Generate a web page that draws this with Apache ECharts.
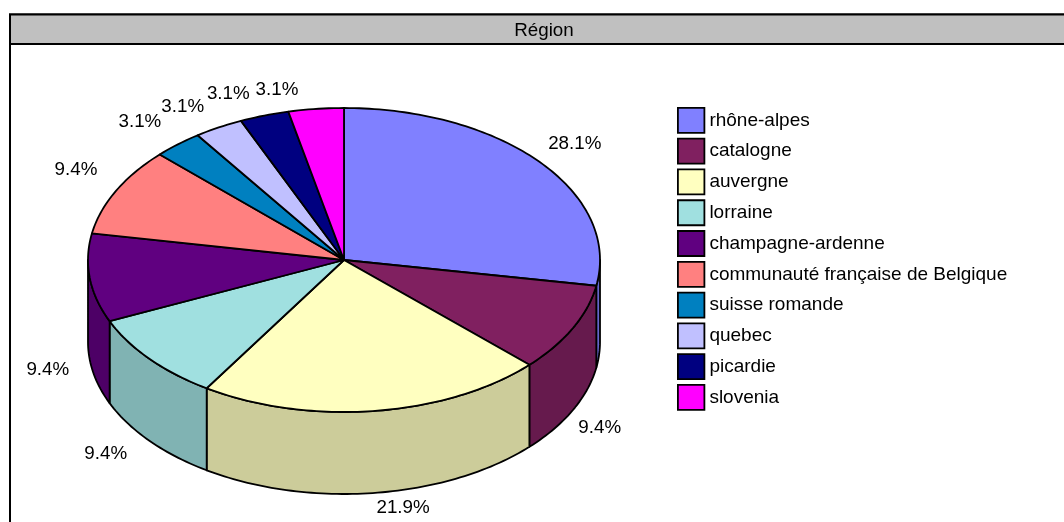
<!DOCTYPE html>
<html>
<head>
<meta charset="utf-8">
<style>html,body{margin:0;padding:0;background:#fff}#c{width:1064px;height:522px}</style>
<script src="https://cdn.jsdelivr.net/npm/echarts@6/dist/echarts.min.js"></script>
</head>
<body>
<div id="c"></div>
<script>
const categories = ['rhône-alpes','catalogne','auvergne','lorraine','champagne-ardenne','communauté française de Belgique','suisse romande','quebec','picardie','slovenia'];
const shares = [28.1,9.4,21.9,9.4,9.4,9.4,3.1,3.1,3.1,3.1];
const colors = ['#8080ff','#802060','#ffffc0','#a0e0e0','#600080','#ff8080','#0080c0','#c0c0ff','#000080','#ff00ff'];
const sideColors = ['#6666cc','#661a4d','#cccc9a','#80b3b3','#4d0066','#cc6666','#006699','#9a9acc','#000066','#cc00cc'];
const titleText = 'Région';

// Layout
const geo = {cx:344, cy:260, rx:256, ry:152, depth:82, skew:1.4*Math.PI/180};
const fontFamily = '"Liberation Sans", Arial, sans-serif';
const fontSize = 18.8;
// nudges of each percentage label away from its slice's rim point
const labelNudge = [[35,-18],[27,18],[28,15],[-44,13],[-42,10],[-40,-21],[-38,-23],[-36,-21],[-36,-22],[-39,-19]];

const total = shares.reduce((a,b)=>a+b,0);
const deg = v => v/total*Math.PI*2;
// the reference's 3D projection turns the inner slice borders by a little; 12 o'clock stays put
const warp = t => (t<=1e-6||t>=Math.PI*2-1e-6) ? t : t-geo.skew;
function startOf(i){let s=0;for(let k=0;k<i;k++)s+=deg(shares[k]);return s;}
function rim(t,dy){return [geo.cx+geo.rx*Math.sin(t), geo.cy-geo.ry*Math.cos(t)+(dy||0)];}
function arc(a,b,dy){
  const n=Math.max(2,Math.ceil((b-a)/0.02)), pts=[];
  for(let j=0;j<=n;j++)pts.push(rim(a+(b-a)*j/n,dy));
  return pts;
}

function makeRenderer(i){
  return function(params, api){
    const value = api.value(0);
    const s = startOf(i);
    const a = warp(s), b = warp(s+deg(value));
    const kids = [];
    const lineStyle = {stroke:'#000', lineWidth:1.8, lineJoin:'round'};
    const lo = Math.max(a,Math.PI/2), hi = Math.min(b,Math.PI*1.5);
    if(hi>lo){
      const outer = arc(lo,hi,0).concat(arc(lo,hi,geo.depth).reverse());
      kids.push({type:'polygon',shape:{points:outer},style:Object.assign({fill:sideColors[i]},lineStyle)});
    }
    const top=[[geo.cx,geo.cy]].concat(arc(a,b,0));
    kids.push({type:'polygon',shape:{points:top},style:Object.assign({fill:colors[i]},lineStyle)});
    const mid=(a+b)/2;
    const front = Math.cos(mid)<0 ? geo.depth : 0;
    const p = rim(mid,front);
    kids.push({type:'text',z2:50,style:{
      text:value.toFixed(1)+'%',
      x:p[0]+labelNudge[i][0], y:p[1]+labelNudge[i][1],
      align:'center',verticalAlign:'middle',fill:'#000',
      font:fontSize+'px '+fontFamily}});
    return {type:'group',children:kids};
  };
}

const series = categories.map((name,i)=>({
  type:'custom',
  name,
  coordinateSystem:'none',
  silent:true,
  animation:false,
  clip:false,
  itemStyle:{color:colors[i]},
  data:[[shares[i]]],
  encode:{value:0},
  renderItem:makeRenderer(i)
}));

const chart = echarts.init(document.getElementById('c'),null,{renderer:'canvas'});
chart.setOption({
  animation:false,
  backgroundColor:'#fff',
  color:colors,
  title:{text:titleText,left:539,top:17,textAlign:'center',
    textStyle:{fontFamily,fontSize,fontWeight:'normal',color:'#000',lineHeight:18}},
  legend:{
    orient:'vertical',left:677,top:107,padding:0,itemWidth:26.5,itemHeight:25,itemGap:3.98,
    selectedMode:false,icon:'rect',
    textStyle:{fontFamily,fontSize:19,color:'#000',padding:[0,0,5,0]},
    data:categories.map((name,i)=>({name,icon:'rect',itemStyle:{color:colors[i],borderColor:'#000',borderWidth:1.8,decal:'none'}}))
  },
  graphic:[
    {type:'rect',z:-2,silent:true,shape:{x:10,y:14.5,width:1200,height:700},style:{fill:'#fff',stroke:'#000',lineWidth:2}},
    {type:'rect',z:-1,silent:true,shape:{x:10,y:14.5,width:1200,height:29.5},style:{fill:'#c0c0c0',stroke:'#000',lineWidth:2}}
  ],
  series
});
</script>
</body>
</html>
